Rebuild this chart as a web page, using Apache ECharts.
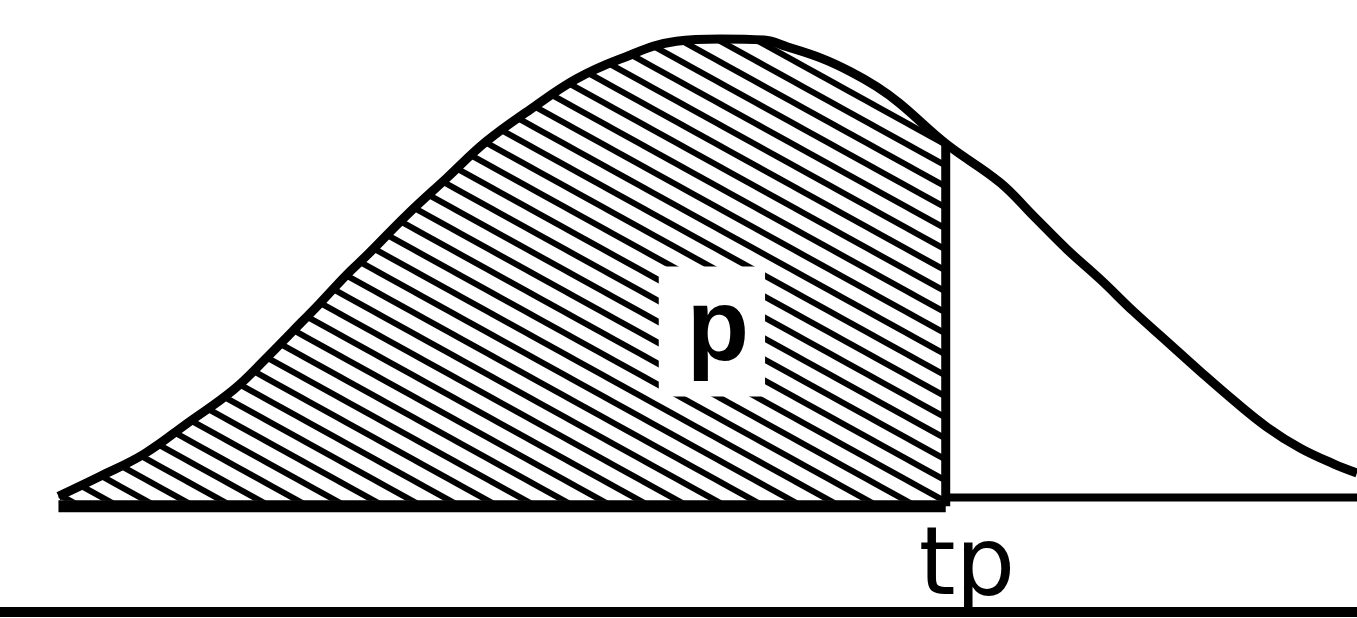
<!DOCTYPE html>
<html>
<head>
<meta charset="utf-8">
<script src="https://cdn.jsdelivr.net/npm/echarts@6/dist/echarts.min.js"></script>
<style>
  html, body { margin: 0; padding: 0; background: #fff; }
  #chart { width: 1357px; height: 618px; }
</style>
</head>
<body>
<div id="chart"></div>
<script>
// curve: t (x units) and density
const curveX = [-3.02, -2.82, -2.61, -2.40, -2.18, -2.02, -1.90, -1.77, -1.64, -1.54,
  -1.35, -1.16, -0.97, -0.75, -0.54, -0.33, -0.06, 0.15, 0.36, 0.47,
  0.63, 0.77, 0.90, 1.01, 1.23, 1.49, 1.65, 1.81, 1.97, 2.13,
  2.29, 2.45, 2.61, 2.77, 2.93, 3.09, 3.20]
const curveY = [0.004, 0.022, 0.042, 0.070, 0.100, 0.129, 0.152, 0.177, 0.203, 0.221,
  0.257, 0.290, 0.323, 0.353, 0.379, 0.397, 0.413, 0.415, 0.414, 0.408,
  0.398, 0.386, 0.372, 0.357, 0.321, 0.286, 0.256, 0.226, 0.199, 0.170,
  0.143, 0.116, 0.090, 0.066, 0.047, 0.033, 0.025]
const tp = 1.23
const tpY = 0.321
const areaLabel = 'p'
const cutLabel = 'tp'

const curve = curveX.map((x, i) => [x, curveY[i]])
const shaded = curve.filter(p => p[0] <= tp)

// diagonal hatch tile
function hatchPattern() {
  const w = 38
  const h = 21
  const c = document.createElement('canvas')
  c.width = w
  c.height = h
  const ctx = c.getContext('2d')
  ctx.fillStyle = '#fff'
  ctx.fillRect(0, 0, w, h)
  ctx.strokeStyle = '#000'
  ctx.lineWidth = 6
  for (let k = -2; k <= 2; k++) {
    ctx.beginPath()
    ctx.moveTo(-w, -h + h * k)
    ctx.lineTo(2 * w, 2 * h + h * k)
    ctx.stroke()
  }
  return c
}

const chart = echarts.init(document.getElementById('chart'))
chart.setOption({
  animation: false,
  backgroundColor: '#fff',
  grid: { left: 0, right: 0, top: -4, bottom: 6 },
  xAxis: {
    type: 'value',
    min: -3.3,
    max: 3.2,
    axisLine: { show: true, onZero: false, lineStyle: { color: '#000', width: 10 } },
    axisTick: { show: false },
    axisLabel: { show: false },
    splitLine: { show: false }
  },
  yAxis: {
    type: 'value',
    min: -0.1,
    max: 0.45,
    show: false,
    splitLine: { show: false }
  },
  series: [
    {
      type: 'line',
      data: shaded,
      smooth: 0.4,
      symbol: 'none',
      lineStyle: { width: 0 },
      areaStyle: { origin: 0, opacity: 1, color: { image: hatchPattern(), repeat: 'repeat' } },
      z: 1
    },
    {
      type: 'line',
      data: [[curveX[0], -0.005], [tp, -0.005]],
      symbol: 'none',
      lineStyle: { color: '#000', width: 12 },
      z: 3
    },
    {
      type: 'line',
      data: [[tp, 0.003], [3.2, 0.003]],
      symbol: 'none',
      lineStyle: { color: '#000', width: 8 },
      z: 3
    },
    {
      type: 'line',
      data: [[tp, -0.005], [tp, tpY]],
      symbol: 'none',
      lineStyle: { color: '#000', width: 9 },
      z: 3
    },
    {
      type: 'line',
      data: curve,
      smooth: 0.4,
      symbol: 'none',
      lineStyle: { color: '#000', width: 9 },
      z: 4
    },
    {
      type: 'scatter',
      data: [[0.11, 0.152]],
      symbolSize: 0,
      itemStyle: { opacity: 1 },
      z: 5,
      label: {
        show: true,
        position: 'inside',
        formatter: areaLabel,
        fontFamily: 'Liberation Sans',
        fontWeight: 'bold',
        fontSize: 102,
        lineHeight: 100,
        color: '#000',
        backgroundColor: '#fff',
        padding: [15, 16, 15, 28]
      }
    },
    {
      type: 'scatter',
      data: [[1.332, -0.062]],
      symbolSize: 0,
      itemStyle: { opacity: 1 },
      z: 5,
      label: {
        show: true,
        position: 'inside',
        formatter: cutLabel,
        fontFamily: 'DejaVu Sans',
        fontSize: 94,
        color: '#000'
      }
    }
  ]
})
</script>
</body>
</html>
